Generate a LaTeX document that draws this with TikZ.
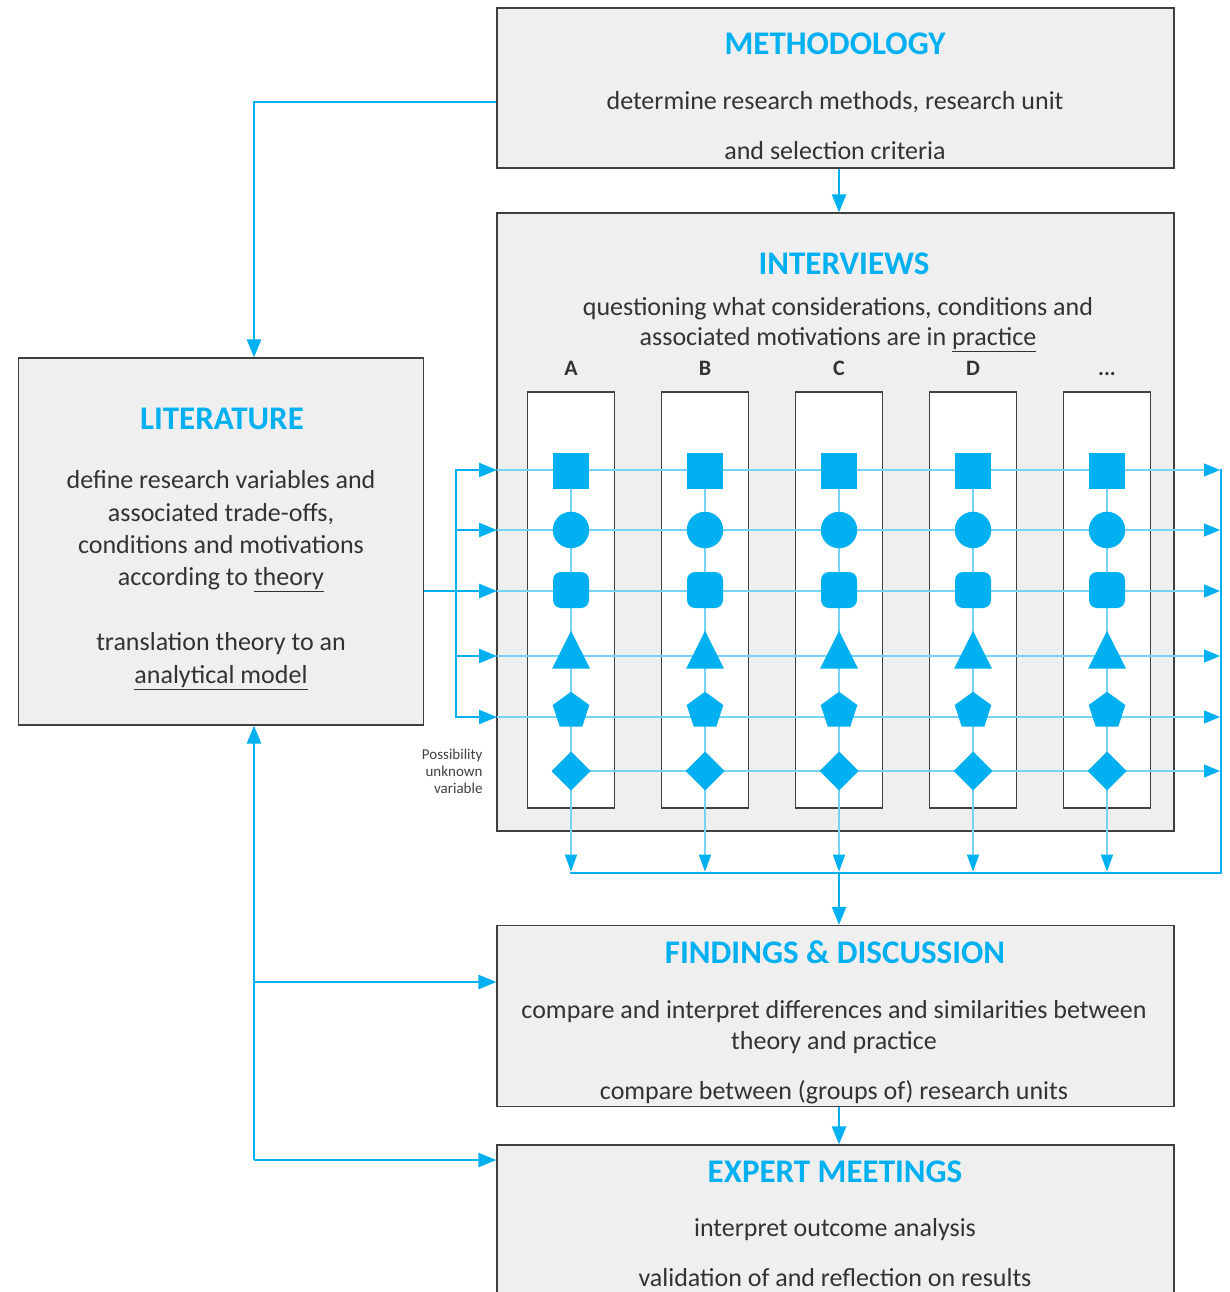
\documentclass[tikz,border=0pt]{standalone}
\usepackage{fontspec}
\setmainfont{Carlito}
\usetikzlibrary{arrows.meta,shapes.geometric}
\definecolor{accent}{HTML}{00B0F0}
\definecolor{paper}{HTML}{EFEFEF}
\definecolor{frame}{HTML}{3F3F3F}
\definecolor{ink}{HTML}{333333}
\newcommand{\etcdots}{...}
\tikzset{
  stage/.style={draw=frame, fill=paper, line width=1.2pt, rectangle, inner sep=0pt},
  unit/.style={draw=frame, fill=white, line width=1.2pt, rectangle, inner sep=0pt,
    minimum width=87.5pt, minimum height=416pt},
  heading/.style={text=accent, font=\fontsize{33}{38}\selectfont\bfseries},
  body/.style={text=ink, align=center, font=\fontsize{26}{32}\selectfont},
  colname/.style={text=ink, anchor=base, font=\fontsize{22}{26}\selectfont\bfseries},
  flow/.style={accent, line width=2.6pt, -{Triangle[length=18pt,width=14pt]}},
  trunk/.style={accent, line width=2.6pt, line cap=rect},
  link/.style={accent!55, line width=1.3pt},
  var/.style={fill=accent, draw=none, inner sep=0pt, outer sep=0pt},
  sqvar/.style={var, rectangle, minimum size=36.5pt},
  circvar/.style={var, circle, minimum size=36.5pt},
  padvar/.style={var, rectangle, rounded corners=8pt, minimum size=36pt},
  trivar/.style={var, isosceles triangle, isosceles triangle stretches,
    shape border rotate=90, minimum width=38pt, minimum height=38pt},
  pentvar/.style={var, regular polygon, regular polygon sides=5, minimum size=38.5pt},
  diavar/.style={var, diamond, minimum width=39pt, minimum height=39pt}
}
\begin{document}
\begin{tikzpicture}[x=1pt,y=-1pt]
  \useasboundingbox (0,0) rectangle (1230,1292);
  % stages
  \node[stage, minimum width=677pt, minimum height=160pt] (meth) at (835.5,88) {};
  \node[stage, minimum width=677pt, minimum height=618pt] (inter) at (835.5,522) {};
  \node[stage, minimum width=405pt, minimum height=367pt] (lit) at (221,541.5) {};
  \node[stage, minimum width=677pt, minimum height=181pt] (find) at (835.5,1016) {};
  \node[stage, minimum width=677pt, minimum height=170pt] (expert) at (835.5,1230) {};
  % texts
  \node[heading] (meth title) at (835,44) {METHODOLOGY};
  \node[body] (meth text) at (835,125.5) {determine research methods, research unit\\[18pt] and selection criteria};
  \node[heading] (inter title) at (844,264) {INTERVIEWS};
  \node[body, font=\fontsize{26}{30}\selectfont] (inter text) at (838,325) {questioning what considerations, conditions and\\ associated motivations are in \underline{practice}};
  \node[heading] (lit title) at (222,419) {LITERATURE};
  \node[body, font=\fontsize{26}{32.4}\selectfont] (lit text) at (221,580) {define research variables and\\ associated trade-offs,\\ conditions and motivations\\ according to \underline{theory}\\[32.4pt] translation theory to an\\ \underline{analytical model}};
  \node[heading] (find title) at (835,952) {FINDINGS \& DISCUSSION};
  \node[body, font=\fontsize{26}{31}\selectfont] (find text) at (834,1052) {compare and interpret differences and similarities between\\ theory and practice\\[19pt] compare between (groups of) research units};
  \node[heading] (expert title) at (835,1172) {EXPERT MEETINGS};
  \node[body] (expert text) at (835,1253) {interpret outcome analysis\\[18pt] validation of and reflection on results};
  \node[text=frame, align=right, anchor=east, font=\fontsize{15}{17}\selectfont] (unknown) at (486,771) {Possibility\\ unknown\\ variable};
  % research units
  \foreach \name [count=\i] in {A,B,C,D,\etcdots} {
    \pgfmathsetmacro\cx{571+134*(\i-1)}
    \node[unit] (col\i) at (\cx,600) {};
    \node[colname] (name\i) at (\cx,375) {\name};
    \coordinate (top\i) at (\cx,470);
  }
  \coordinate (split) at (456,591);
  \coordinate (collect) at (1221,873);
  \coordinate (gather) at (571,873);
  \foreach \r/\y in {1/470,2/530,3/591,4/656,5/717,6/771} {
    \coordinate (in\r) at (497,\y);
    \coordinate (out\r) at (1220,\y);
  }
  % variable lines
  \foreach \r in {1,...,5}
    \draw[link, -{Triangle[length=16pt,width=13pt,color=accent]}] (in\r) -- (out\r);
  \draw[link, -{Triangle[length=16pt,width=13pt,color=accent]}] (in6 -| top1) -- (out6);
  \foreach \i in {1,...,5}
    \draw[link, -{Triangle[length=17pt,width=12pt,color=accent]}] (top\i) -- ([yshift=1.3pt]top\i |- gather);
  % feeding and collecting
  \draw[flow] (lit.east |- split) -- (in3);
  \draw[trunk] (in1 -| split) -- (in5 -| split);
  \foreach \r in {1,2,4,5}
    \draw[flow] (in\r -| split) -- (in\r);
  \draw[trunk] (out1 -| collect) -- (collect) -- (gather);
  % shapes
  \foreach \i in {1,...,5} {
    \pgfmathsetmacro\cx{571+134*(\i-1)}
    \node[sqvar] (v\i-1) at (\cx,471) {};
    \node[circvar] (v\i-2) at (\cx,530) {};
    \node[padvar] (v\i-3) at (\cx,590) {};
    \node[trivar] (v\i-4) at (\cx,657) {};
    \node[pentvar] (v\i-5) at (\cx,711) {};
    \node[diavar] (v\i-6) at (\cx,771) {};
  }
  % flow between stages
  \draw[flow] (meth.south -| col3) -- (inter.north -| col3);
  \draw[flow] (col3 |- gather) -- (find.north -| col3);
  \draw[flow] (find.south -| col3) -- (expert.north -| col3);
  \draw[flow] ([yshift=-14pt]meth.west) -| ([xshift=33pt]lit.north);
  \coordinate (fback) at (254,982);
  \coordinate (eback) at (254,1160);
  \draw[flow] (eback) -- ([xshift=33pt]lit.south);
  \draw[flow] (fback) -- (find.west |- fback);
  \draw[flow] (eback) -- (expert.west |- eback);
\end{tikzpicture}
\end{document}
